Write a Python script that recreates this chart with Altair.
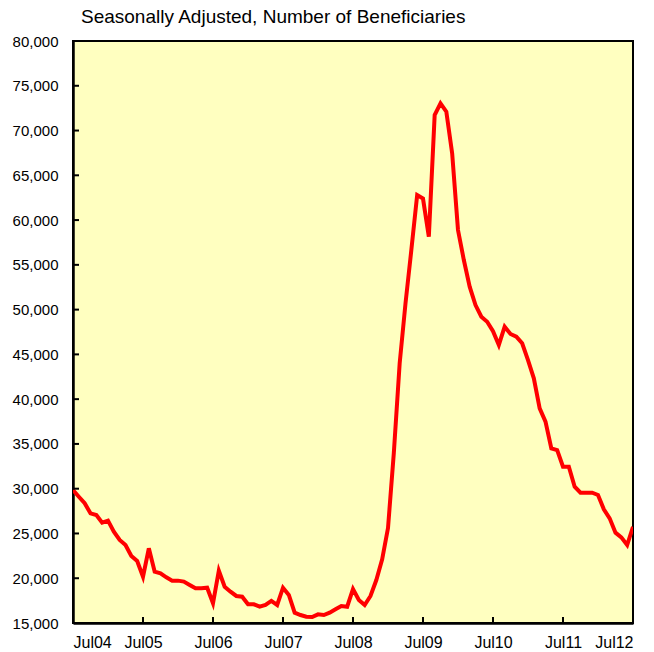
import altair as alt
import pandas as pd

# Monthly beneficiaries, Jul 2004 .. Jul 2012 (month index 0..96)
values = [
    29850, 29100, 28370, 27250, 27060, 26200, 26430, 25200, 24270, 23710, 22480, 21920,
    20170, 23340, 20730, 20550, 20100, 19730, 19730, 19620, 19240, 18870, 18870, 18940,
    17200, 20840, 19050, 18500, 18020, 17940, 17090, 17090, 16820, 17010, 17460, 17010,
    18940, 18130, 16150, 15890, 15710, 15670, 15970, 15890, 16150, 16530, 16900, 16820,
    18780, 17570, 17010, 18020, 19800, 22110, 25600, 34000, 44000, 50700, 56650, 62800,
    62400, 58140, 71730, 73040, 72100, 67450, 58890, 55540, 52560, 50510, 49210, 48650,
    47600, 46050, 48090, 47280, 46980, 46240, 44370, 42330, 38980, 37490, 34510, 34320,
    32460, 32460, 30220, 29550, 29550, 29550, 29300, 27700, 26690, 25090, 24570, 23710,
    25750,
]
months = list(range(len(values)))
x_labels = ["Jul04", "Jul05", "Jul06", "Jul07", "Jul08", "Jul09", "Jul10", "Jul11", "Jul12"]
x_ticks = [12 * i for i in range(len(x_labels))]
y_ticks = list(range(15000, 80001, 5000))
title_text = "Seasonally Adjusted, Number of Beneficiaries"

df = pd.DataFrame({"m": months, "v": values})
xt = pd.DataFrame({"m": x_ticks})
yt = pd.DataFrame({"v": y_ticks})

FONT = "Liberation Sans"
W, H = 560, 582

label_expr = "[" + ",".join(f"'{s}'" for s in x_labels) + "][round(datum.value/12)]"

xscale = alt.Scale(domain=[0, 96], nice=False, zero=False)
yscale = alt.Scale(domain=[15000, 80000], nice=False, zero=False)

line = alt.Chart(df).mark_line(color="#FF0000", strokeWidth=4, clip=True).encode(
    x=alt.X("m:Q", scale=xscale,
            axis=alt.Axis(values=x_ticks, labelExpr=label_expr, title=None, ticks=False,
                          grid=False, domainColor="black", domainWidth=2.5,
                          labelPadding=11, labelFont=FONT, labelFontSize=16,
                          labelColor="black")),
    y=alt.Y("v:Q", scale=yscale,
            axis=alt.Axis(values=y_ticks, format=",d", title=None, ticks=False,
                          grid=False, domainColor="black", domainWidth=2.5,
                          labelPadding=15, labelFont=FONT, labelFontSize=15,
                          labelColor="black")),
)

xtick_marks = alt.Chart(xt).mark_rule(color="black", strokeWidth=2).encode(
    x=alt.X("m:Q", scale=xscale),
    y=alt.value(H),
    y2=alt.value(H - 6),
)
ytick_marks = alt.Chart(yt).mark_rule(color="black", strokeWidth=2).encode(
    y=alt.Y("v:Q", scale=yscale),
    x=alt.value(0),
    x2=alt.value(6),
)

chart = alt.layer(line, xtick_marks, ytick_marks).properties(
    width=W, height=H,
    title=alt.TitleParams(title_text, anchor="start", frame="group", font=FONT,
                          fontSize=19, fontWeight="normal", color="black",
                          offset=7, dx=8),
    autosize=alt.AutoSizeParams(type="none"),
    padding={"left": 65, "top": 33, "right": 13, "bottom": 26},
).configure_view(
    fill="#FFFFC0", stroke="black", strokeWidth=2
)

chart.save("out.html", embed_options={"renderer": "svg", "actions": False})
